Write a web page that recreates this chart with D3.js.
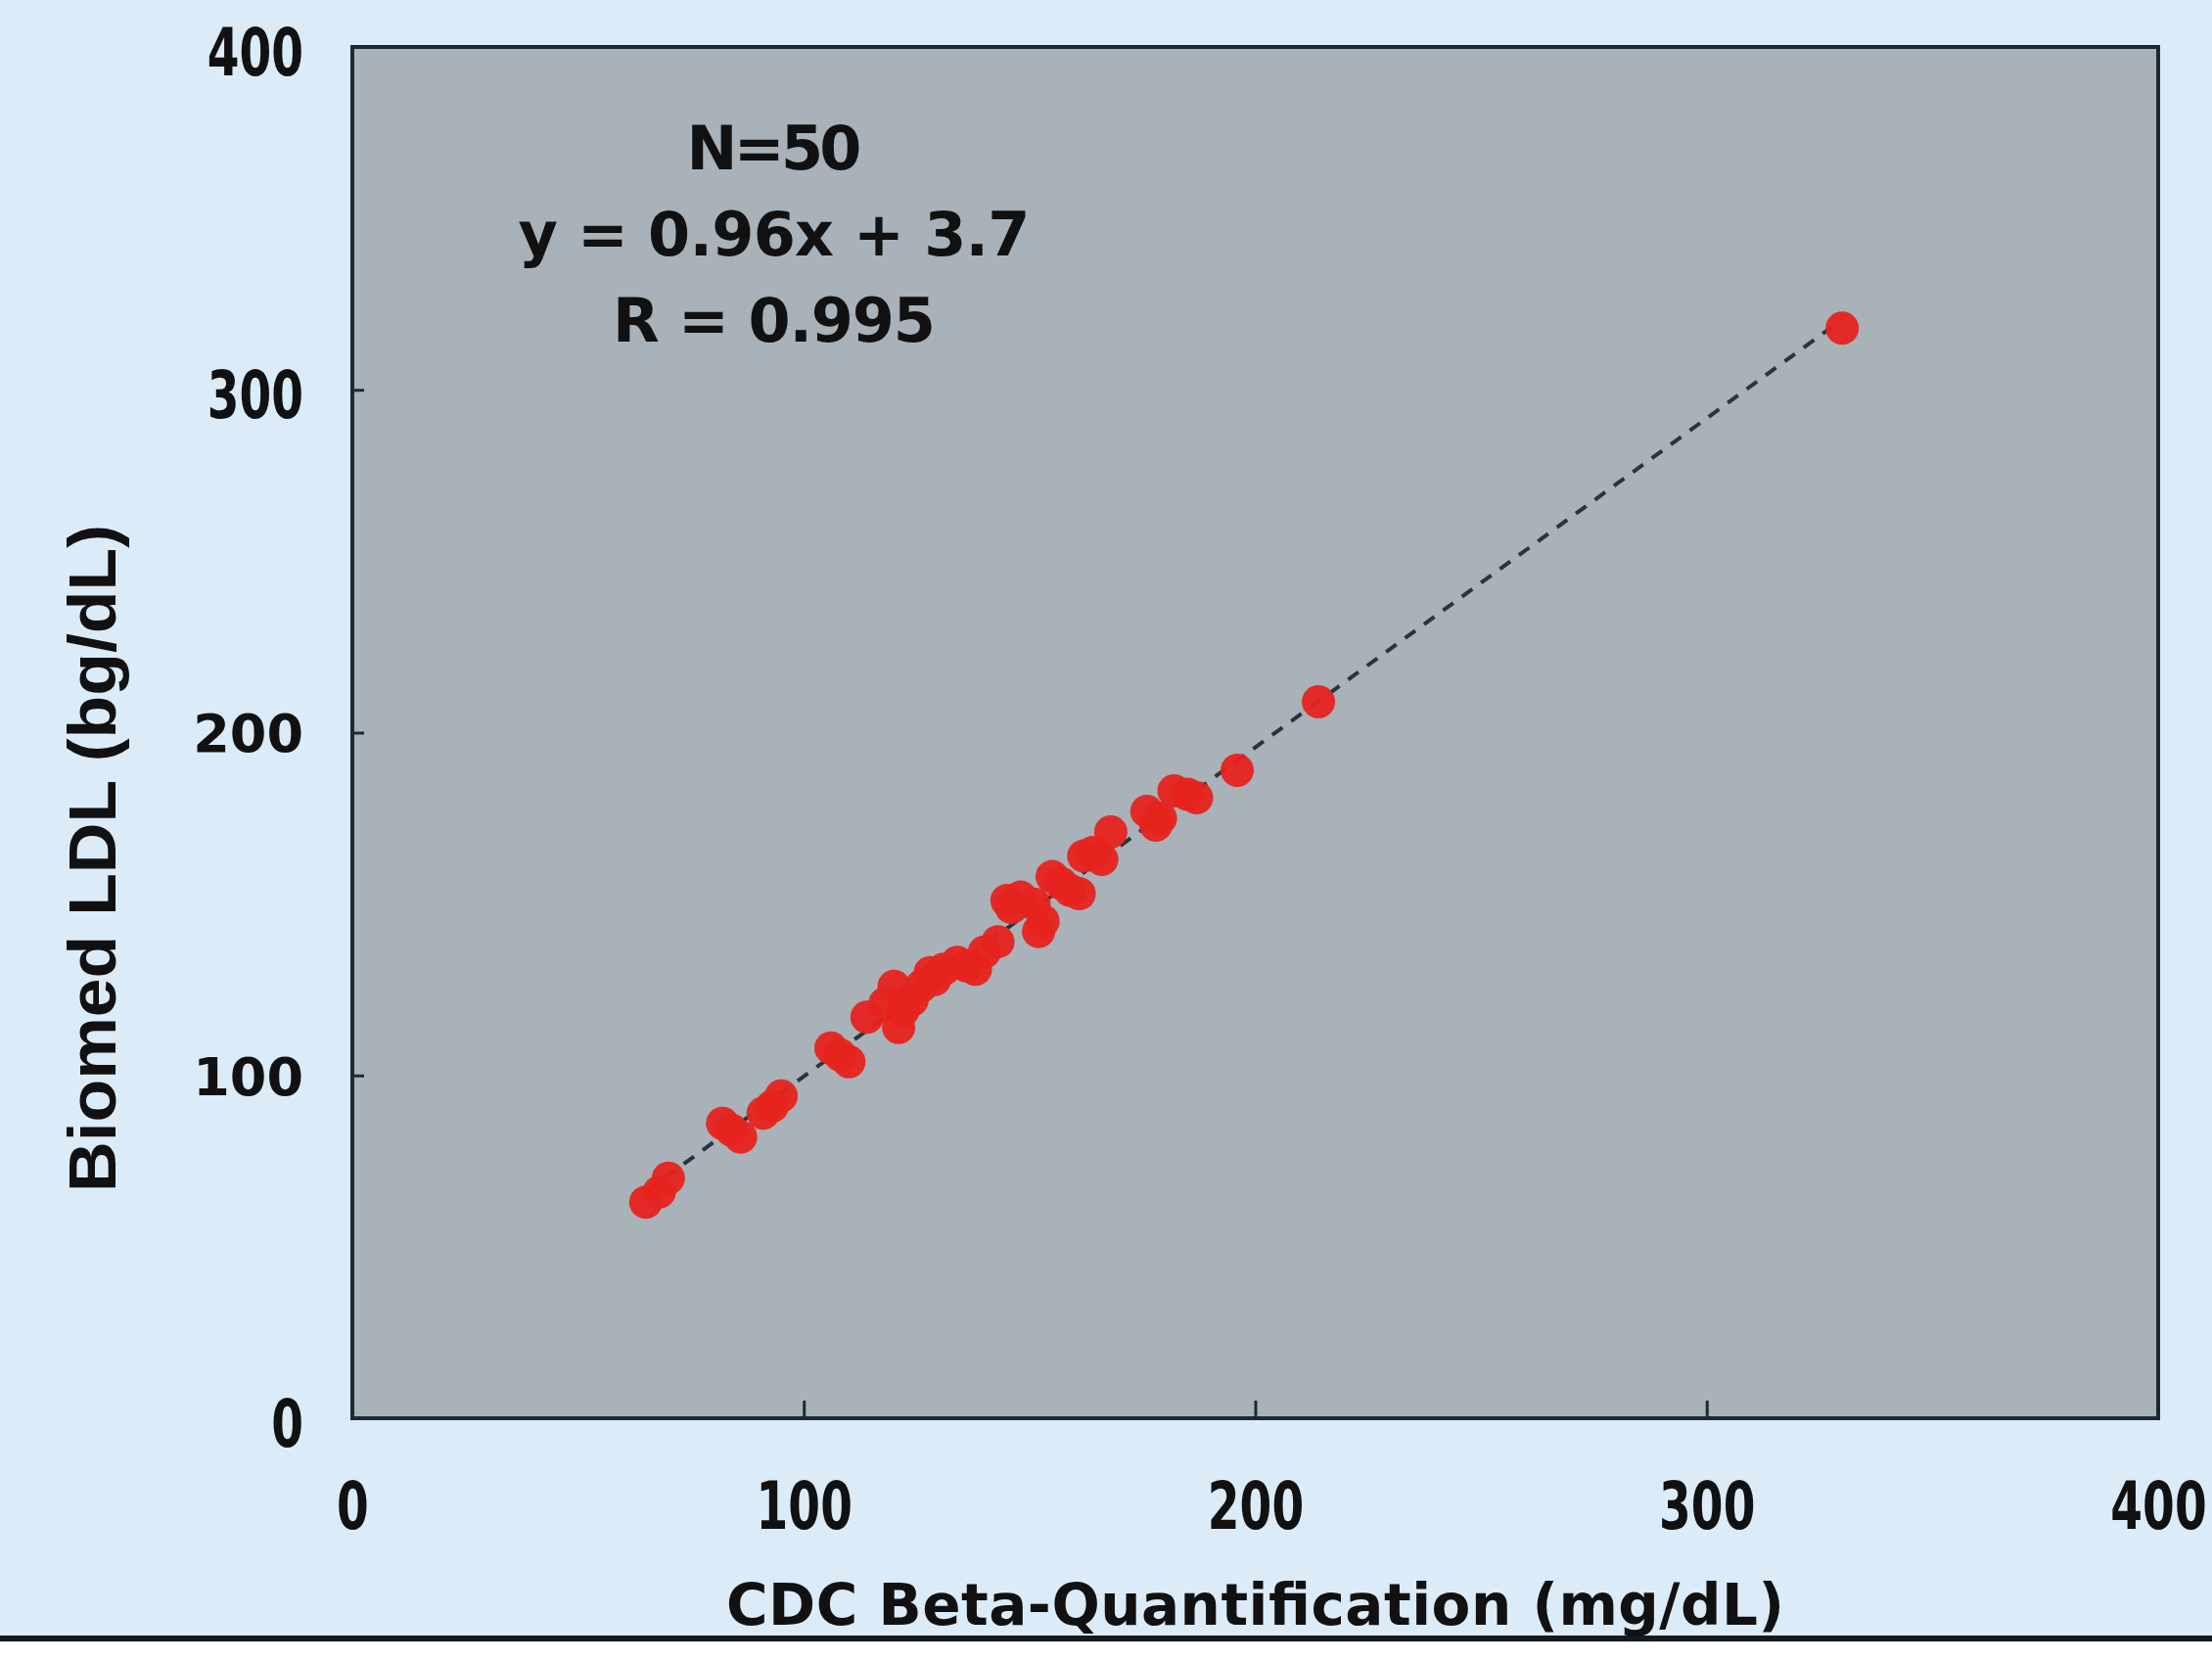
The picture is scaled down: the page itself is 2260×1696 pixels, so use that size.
<!DOCTYPE html>
<html>
<head>
<meta charset="utf-8">
<script src="https://cdn.jsdelivr.net/npm/d3@7"></script>
<style>
  html, body { margin: 0; padding: 0; background: #ffffff; }
  svg { display: block; }
</style>
</head>
<body>
<svg id="chart" width="2260" height="1696"></svg>
<script>
'use strict';

// CDC beta-quantification (x) vs Biomed LDL (y), mg/dL
let cdcValues = [65, 68, 70, 82, 84, 86, 91, 93, 95, 106,
	108, 110, 114, 118, 120, 121, 122, 124, 126, 128,
	129, 131, 134, 136, 138, 140, 143, 145, 146, 148,
	151, 152, 153, 155, 157, 159, 161, 162, 164, 166,
	168, 176, 178, 179, 182, 185, 187, 196, 214, 330];
let biomedValues = [63, 66, 70, 86, 84, 82, 89, 91, 94, 108,
	106, 104, 117, 121, 126, 114, 119, 122, 126, 130,
	128, 131, 133, 132, 131, 136, 139, 151, 149, 152,
	150, 142, 145, 158, 156, 154, 153, 164, 165, 163,
	171, 177, 173, 175, 183, 182, 181, 189, 209, 318];

let xTicks = [0, 100, 200, 300, 400];
let yTicks = [0, 100, 200, 300, 400];
let wideYTicks = [100, 200];

let fitSlope = 0.96;
let fitIntercept = 3.7;
let statLines = ['N=50', 'y = 0.96x + 3.7', 'R = 0.995'];
let statWidths = [179, 523, 330];

let xTitle = 'CDC Beta-Quantification (mg/dL)';
let yTitle = 'Biomed LDL (bg/dL)';

let opt = {
	width: 2260,
	height: 1696,
	left: 360,
	right: 2205,
	top: 48,
	bottom: 1449,
	labelFont: "'DejaVu Sans', 'Liberation Sans', sans-serif",
	titleFont: "'Liberation Sans', Arial, sans-serif",
	sx: 0.76, // fake condensed face
	sy: 1.08,
	pageColor: '#dcebf8',
	plotColor: '#a8b2b8',
	frameColor: '#1d2a33',
	dotColor: '#e6231d'
};

let points = cdcValues.map((x, i) => ({x, y: biomedValues[i]}));

let x = d3.scaleLinear().domain([0, 400]).range([opt.left, opt.right]);
let y = d3.scaleLinear().domain([0, 400]).range([opt.bottom, opt.top]);

let svg = d3.select('#chart');

// page background + rule at the bottom
svg.append('rect')
	.attr('width', opt.width)
	.attr('height', opt.height)
	.attr('fill', opt.pageColor);

svg.append('rect')
	.attr('x', 0)
	.attr('y', 1678)
	.attr('width', opt.width)
	.attr('height', opt.height - 1678)
	.attr('fill', '#ffffff');

svg.append('line')
	.attr('x1', 0)
	.attr('x2', opt.width)
	.attr('y1', 1674)
	.attr('y2', 1674)
	.attr('stroke', '#151a1e')
	.attr('stroke-width', 6);

// plot area
svg.append('rect')
	.attr('x', opt.left)
	.attr('y', opt.top)
	.attr('width', opt.right - opt.left)
	.attr('height', opt.bottom - opt.top)
	.attr('fill', opt.plotColor);

// regression line over the data range
let xExtent = d3.extent(cdcValues);
svg.append('line')
	.attr('x1', x(xExtent[0]))
	.attr('y1', y(fitSlope * xExtent[0] + fitIntercept))
	.attr('x2', x(xExtent[1]))
	.attr('y2', y(fitSlope * xExtent[1] + fitIntercept))
	.attr('stroke', '#27353c')
	.attr('stroke-width', 4)
	.attr('stroke-dasharray', '13 11');

svg.append('g')
	.selectAll('circle')
	.data(points)
	.join('circle')
	.attr('cx', d => x(d.x))
	.attr('cy', d => y(d.y))
	.attr('r', 17)
	.attr('fill', opt.dotColor)
	.attr('fill-opacity', 0.95);

// frame
svg.append('rect')
	.attr('x', opt.left)
	.attr('y', opt.top)
	.attr('width', opt.right - opt.left)
	.attr('height', opt.bottom - opt.top)
	.attr('fill', 'none')
	.attr('stroke', opt.frameColor)
	.attr('stroke-width', 4);

// axes, ticks point inward
let xAxis = svg.append('g')
	.attr('transform', `translate(0,${opt.bottom})`)
	.call(d3.axisBottom(x).tickValues(xTicks).tickSizeInner(-18).tickSizeOuter(0));

xAxis.select('.domain').remove();
xAxis.selectAll('.tick line')
	.attr('stroke', opt.frameColor)
	.attr('stroke-width', 3)
	.filter(d => d === 0 || d === 400).remove();
xAxis.selectAll('.tick text')
	.attr('transform', `scale(${opt.sx},${opt.sy})`)
	.attr('y', 113 / opt.sy)
	.attr('dy', 0)
	.attr('fill', '#111')
	.style('font-family', opt.labelFont)
	.style('font-weight', 'bold')
	.style('font-size', '62px');

let yAxis = svg.append('g')
	.attr('transform', `translate(${opt.left},0)`)
	.call(d3.axisLeft(y).tickValues(yTicks).tickSizeInner(-12).tickSizeOuter(0));

yAxis.select('.domain').remove();
yAxis.selectAll('.tick line')
	.attr('stroke', opt.frameColor)
	.attr('stroke-width', 3)
	.filter(d => d === 0 || d === 400).remove();

// 100 and 200 use a wider face in the original
yAxis.selectAll('.tick text')
	.attr('fill', '#111')
	.style('font-weight', 'bold')
	.style('font-family', opt.labelFont)
	.each(function(d) {
		let wide = wideYTicks.includes(d);
		d3.select(this)
			.attr('transform', wide ? null : `scale(${opt.sx},${opt.sy})`)
			.attr('x', wide ? -50 : -50 / opt.sx)
			.attr('y', wide ? 0 : 4 / opt.sy)
			.attr('dy', '0.36em')
			.style('font-size', wide ? '54px' : '62px');
	});

// axis titles
svg.append('text')
	.attr('x', x(200))
	.attr('y', 1660)
	.attr('text-anchor', 'middle')
	.attr('textLength', 1081)
	.attr('lengthAdjust', 'spacing')
	.attr('fill', '#111')
	.style('font-family', opt.labelFont)
	.style('font-weight', 'bold')
	.style('font-size', '58px')
	.text(xTitle);

svg.append('text')
	.attr('transform', 'translate(118,877) rotate(-90)')
	.attr('text-anchor', 'middle')
	.attr('textLength', 682)
	.attr('lengthAdjust', 'spacingAndGlyphs')
	.attr('fill', '#111')
	.style('font-family', opt.titleFont)
	.style('font-weight', 'bold')
	.style('font-size', '68px')
	.text(yTitle);

// fit statistics
svg.append('g')
	.selectAll('text')
	.data(statLines)
	.join('text')
	.attr('x', 791)
	.attr('y', (d, i) => 173 + i * 88)
	.attr('text-anchor', 'middle')
	.attr('textLength', (d, i) => statWidths[i])
	.attr('lengthAdjust', 'spacing')
	.attr('fill', '#111')
	.style('font-family', opt.labelFont)
	.style('font-weight', 'bold')
	.style('font-size', '62px')
	.text(d => d);
</script>
</body>
</html>
